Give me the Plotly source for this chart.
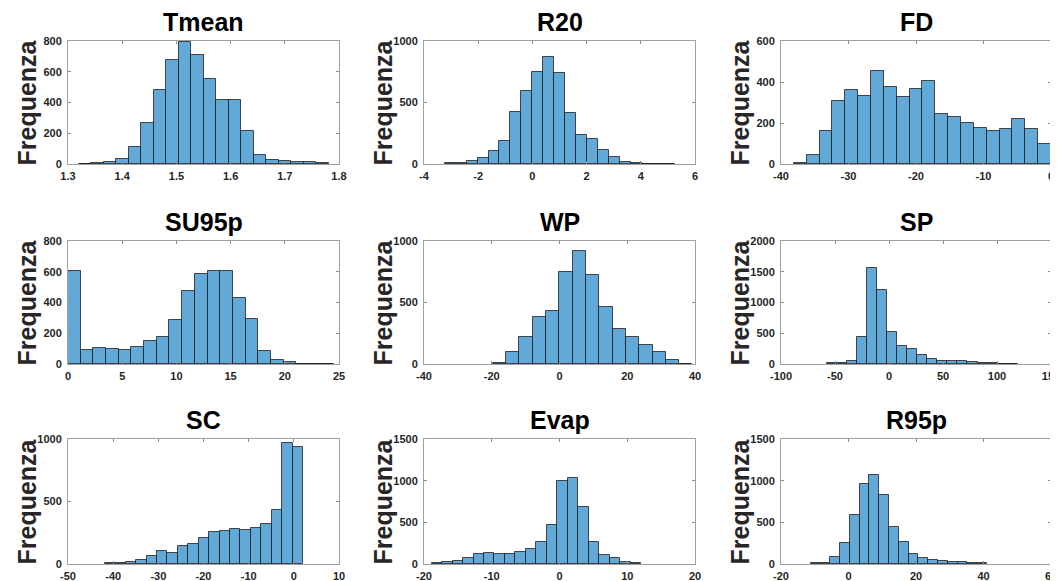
import plotly.graph_objects as go

# ---------------- data ----------------
titles = ["Tmean", "R20", "FD", "SU95p", "WP", "SP", "SC", "Evap", "R95p"]

# first bin edge and bin width for each histogram
bin_start = [1.320, -3.24, -38.1, 0.0, -19.7, -57.1, -41.84, -18.87, -11.2]
bin_width = [0.02306, 0.405, 1.905, 1.17, 3.93, 9.27, 2.31, 1.545, 2.9]

counts_tmean = [2, 5, 15, 30, 108, 264, 480, 675, 791, 707, 553, 419, 415, 212, 56, 28, 22, 13, 13, 4]
counts_r20 = [5, 8, 22, 49, 103, 184, 422, 592, 746, 868, 741, 411, 238, 200, 114, 57, 19, 8, 2, 3, 1]
counts_fd = [3, 45, 159, 305, 363, 332, 454, 376, 327, 368, 404, 246, 227, 198, 177, 160, 172, 219, 173, 96]
counts_su95p = [603, 91, 102, 98, 91, 113, 148, 174, 284, 477, 586, 607, 603, 432, 293, 85, 28, 11, 3, 2, 1]
counts_wp = [12, 95, 220, 385, 431, 745, 920, 720, 466, 287, 220, 157, 98, 35, 3]
counts_sp = [10, 22, 54, 444, 1555, 1198, 515, 298, 238, 146, 87, 54, 43, 49, 38, 22, 11, 5, 2]
counts_sc = [8, 5, 19, 29, 64, 102, 88, 142, 160, 211, 254, 262, 283, 275, 286, 323, 436, 965, 933]
counts_evap = [8, 20, 36, 76, 124, 136, 116, 116, 148, 181, 269, 466, 1000, 1028, 683, 261, 104, 68, 20, 8]
counts_r95p = [16, 16, 80, 253, 586, 960, 1068, 827, 450, 261, 116, 76, 48, 36, 28, 20, 12, 8]

all_counts = [counts_tmean, counts_r20, counts_fd, counts_su95p, counts_wp,
              counts_sp, counts_sc, counts_evap, counts_r95p]

x_ranges = [[1.3, 1.8], [-4, 6], [-40, 0], [0, 25], [-40, 40], [-100, 150],
            [-50, 10], [-20, 20], [-20, 60]]
x_ticks = [[1.3, 1.4, 1.5, 1.6, 1.7, 1.8], [-4, -2, 0, 2, 4, 6], [-40, -30, -20, -10, 0],
           [0, 5, 10, 15, 20, 25], [-40, -20, 0, 20, 40], [-100, -50, 0, 50, 100, 150],
           [-50, -40, -30, -20, -10, 0, 10], [-20, -10, 0, 10, 20], [-20, 0, 20, 40, 60]]
y_ranges = [[0, 800], [0, 1000], [0, 600], [0, 800], [0, 1000], [0, 2000],
            [0, 1000], [0, 1500], [0, 1500]]
y_ticks = [[0, 200, 400, 600, 800], [0, 500, 1000], [0, 200, 400, 600],
           [0, 200, 400, 600, 800], [0, 500, 1000], [0, 500, 1000, 1500, 2000],
           [0, 500, 1000], [0, 500, 1000, 1500], [0, 500, 1000, 1500]]
y_label = "Frequenza"

# ---------------- layout geometry (page pixels) ----------------
W, H = 1058, 581
PAGE_OFFSET = 8          # default body margin of the html page
col_px = [(68, 339), (424, 695), (781, 1051)]
row_px = [(41, 164), (241, 364), (439, 564)]

FONT = "Liberation Sans, Arial, sans-serif"
BAR_COLOR = "#62a9d8"


def px_x(p):
    return (p - PAGE_OFFSET) / W


def px_y(p):
    return 1 - (p - PAGE_OFFSET) / H


fig = go.Figure()
annotations = []
layout_axes = {}

for i, name in enumerate(titles):
    r, c = divmod(i, 3)
    n = len(all_counts[i])
    centers = [bin_start[i] + (k + 0.5) * bin_width[i] for k in range(n)]
    suffix = "" if i == 0 else str(i + 1)
    fig.add_trace(go.Bar(
        x=centers, y=all_counts[i], width=[bin_width[i]] * n,
        marker=dict(color=BAR_COLOR, line=dict(color="rgba(20,20,20,0.75)", width=1)),
        xaxis="x" + suffix, yaxis="y" + suffix, showlegend=False,
    ))
    x0, x1 = col_px[c]
    y0, y1 = row_px[r]
    xd = [px_x(x0), px_x(x1)]
    yd = [px_y(y1), px_y(y0)]
    common = dict(
        showgrid=False, zeroline=False, showline=True, linecolor="#a0a0a0", linewidth=1,
        mirror="ticks", ticks="inside", ticklen=3, tickcolor="#8a8a8a", automargin=False,
        tickfont=dict(family=FONT, size=11, color="#262626", weight="bold"),
    )
    layout_axes["xaxis" + suffix] = dict(
        domain=xd, range=x_ranges[i], tickvals=x_ticks[i],
        ticktext=[("%g" % v) for v in x_ticks[i]], ticklabelstandoff=2,
        anchor="y" + suffix, **common)
    layout_axes["yaxis" + suffix] = dict(
        domain=yd, range=y_ranges[i], tickvals=y_ticks[i], ticklabelstandoff=3,
        anchor="x" + suffix, **common)
    annotations.append(dict(
        text="<b>%s</b>" % name, xref="paper", yref="paper",
        x=px_x((x0 + x1) / 2), y=px_y(y0), xanchor="center", yanchor="bottom",
        yshift=3, showarrow=False,
        font=dict(family=FONT, size=25, color="black")))
    annotations.append(dict(
        text="<b>%s</b>" % y_label, xref="paper", yref="paper",
        x=px_x(x0 - 42), y=px_y((y0 + y1) / 2), xanchor="center", yanchor="middle",
        textangle=-90, showarrow=False,
        font=dict(family=FONT, size=25, color="#262626")))

fig.update_layout(
    template="none",
    width=W, height=H, margin=dict(l=0, r=0, t=0, b=0, autoexpand=False),
    paper_bgcolor="white", plot_bgcolor="white",
    bargap=0, annotations=annotations, **layout_axes)

fig.write_html("out.html")
